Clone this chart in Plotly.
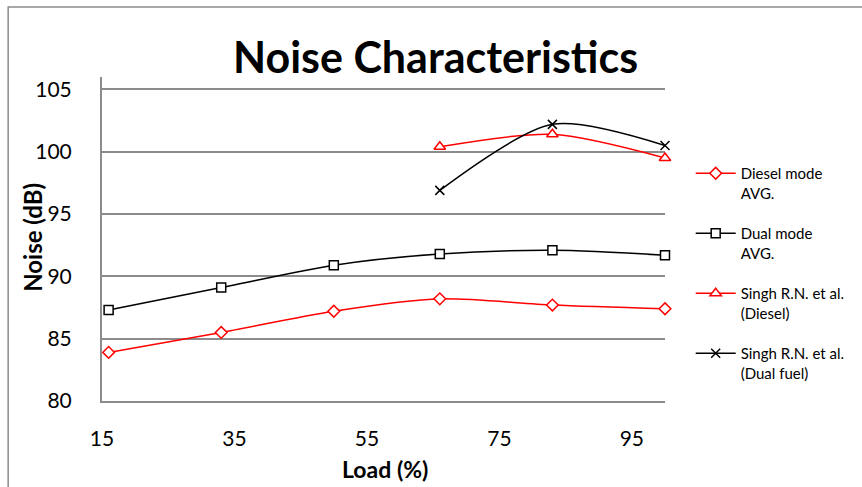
import plotly.graph_objects as go

# Engine load (%) at which noise was measured
load = [16, 33, 50, 66, 83, 100]
diesel_avg = [83.9, 85.5, 87.2, 88.2, 87.7, 87.4]
dual_avg = [87.3, 89.1, 90.9, 91.8, 92.1, 91.7]

# Literature values (Singh R.N. et al.)
singh_load = [66, 83, 100]
singh_diesel = [100.4, 101.4, 99.5]
singh_dual = [96.9, 102.2, 100.5]

x_ticks = [15, 35, 55, 75, 95]
y_ticks = [80, 85, 90, 95, 100, 105]

FONT = "Lato"
W, H = 862, 487
ML, MR, MT, MB = 102, 190, 77, 86

fig = go.Figure()

series = [
    ("Diesel mode<br>AVG.", load, diesel_avg, "#ff0000", "diamond", 9),
    ("Dual mode<br>AVG.", load, dual_avg, "#000000", "square", 9),
    ("Singh R.N. et al.<br>(Diesel)", singh_load, singh_diesel, "#ff0000", "triangle-up", 10),
    ("Singh R.N. et al.<br>(Dual fuel)", singh_load, singh_dual, "#000000", "x-thin", 9),
]

for i, (name, xs, ys, col, sym, sz) in enumerate(series):
    is_x = sym == "x-thin"
    fig.add_trace(go.Scatter(
        x=xs, y=ys, name=name, mode="lines+markers",
        legendgroup=f"g{i}", cliponaxis=False,
        line=dict(color=col, width=1.5, shape="spline", smoothing=0.8),
        marker=dict(symbol=sym, size=sz,
                    color=col if is_x else "white",
                    line=dict(color=col, width=1.5)),
    ))

grid_col = "#8c8c8c"

fig.update_xaxes(
    range=[15, 100], tickvals=x_ticks, showgrid=False, zeroline=False,
    showline=True, linecolor=grid_col, linewidth=2, ticks="",
    ticklabelstandoff=18,
    tickfont=dict(family=FONT, size=21, color="#000000"),
)
fig.update_yaxes(
    range=[80, 106], tickvals=y_ticks, showgrid=True, gridcolor=grid_col,
    gridwidth=2, zeroline=False, showline=True, linecolor=grid_col,
    linewidth=2, ticks="", ticklabelstandoff=24,
    tickfont=dict(family=FONT, size=21, color="#000000"),
)

def px_x(p):
    return (p - ML) / (W - ML - MR)

def px_y(p):
    return 1 - (p - MT) / (H - MT - MB)

annotations = [
    dict(text="<b>Noise Characteristics</b>", x=px_x(440), y=px_y(57),
         font=dict(family=FONT, size=43, color="#000000")),
    dict(text="<b>Noise (dB)</b>", x=px_x(31), y=px_y(237), textangle=-90,
         font=dict(family=FONT, size=24, color="#000000")),
    dict(text="<b>Load (%)</b>", x=px_x(389), y=px_y(469),
         font=dict(family=FONT, size=23, color="#000000")),
]
for a in annotations:
    a.update(xref="paper", yref="paper", showarrow=False,
             xanchor="center", yanchor="middle")

fig.update_layout(
    width=W, height=H,
    margin=dict(l=ML, r=MR, t=MT, b=MB),
    paper_bgcolor="white", plot_bgcolor="white",
    annotations=annotations,
    showlegend=True,
    legend=dict(
        x=px_x(698), y=px_y(157), xanchor="left", yanchor="top",
        font=dict(family=FONT, size=15, color="#000000"),
        valign="top", traceorder="grouped", tracegroupgap=18,
        itemwidth=40, bgcolor="rgba(0,0,0,0)",
    ),
    shapes=[dict(
        type="rect", xref="paper", yref="paper",
        x0=px_x(7), x1=px_x(875), y0=px_y(500), y1=px_y(7),
        line=dict(color="#8c8c8c", width=1.5), fillcolor="rgba(0,0,0,0)",
        layer="below",
    )],
)

fig.write_html("out.html")
